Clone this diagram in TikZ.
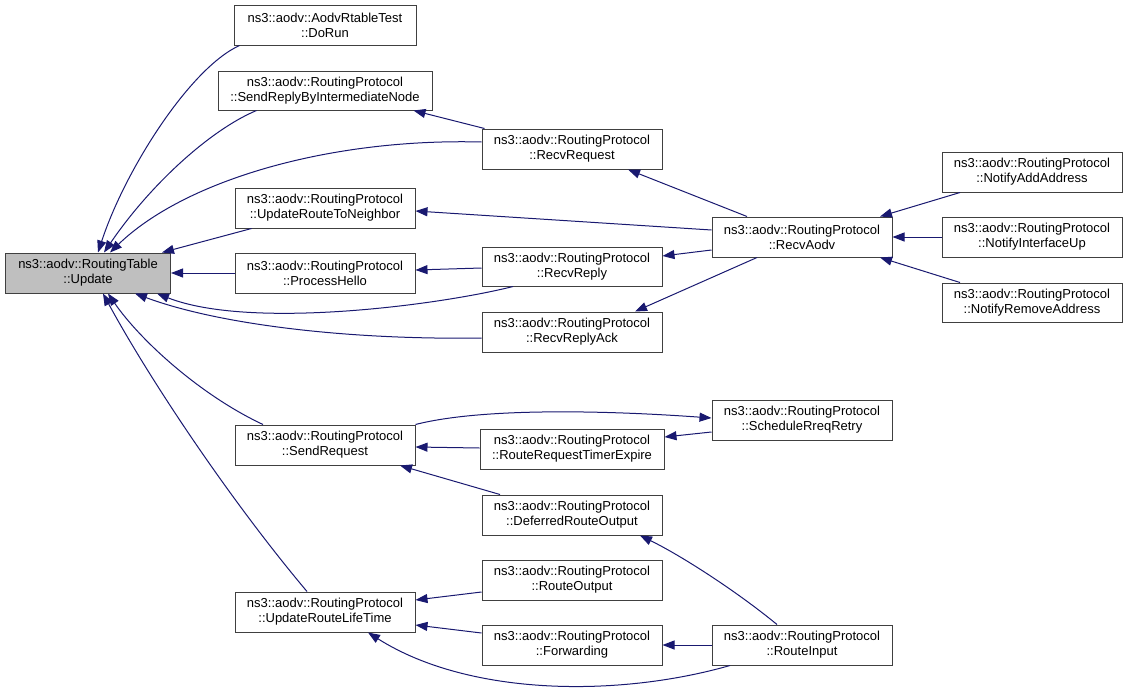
\documentclass[tikz,border=0pt]{standalone}
\usepackage{fontspec}
\setmainfont{Liberation Sans}
\usetikzlibrary{arrows.meta}
\definecolor{edgeblue}{HTML}{191970}
\definecolor{boxline}{HTML}{404040}
\definecolor{hilite}{HTML}{BFBFBF}
\begin{document}
\begin{tikzpicture}[x=1pt,y=-1pt,
  box/.style={draw=boxline,line width=1pt,fill=white,rectangle,minimum height=40pt,
    inner sep=0pt,align=center,font=\fontsize{13pt}{15pt}\selectfont},
  w180/.style={minimum width=180pt},
  edge/.style={draw=edgeblue,line width=1pt,-{Triangle[length=12pt,width=9pt]}}]
\useasboundingbox (0,0) rectangle (1128,694);
% nodes
\node[box,minimum width=165pt,fill=hilite] (Update) at (88,273) {ns3::aodv::RoutingTable\\::Update};
\node[box,minimum width=182pt] (DoRun) at (325,25) {ns3::aodv::AodvRtableTest\\::DoRun};
\node[box,minimum width=214pt,minimum height=39pt] (SRBIN) at (325,90.5) {ns3::aodv::RoutingProtocol\\::SendReplyByIntermediateNode};
\node[box,w180] (RecvRequest) at (572,149) {ns3::aodv::RoutingProtocol\\::RecvRequest};
\node[box,w180] (URTN) at (325,208) {ns3::aodv::RoutingProtocol\\::UpdateRouteToNeighbor};
\node[box,w180] (ProcessHello) at (325,273) {ns3::aodv::RoutingProtocol\\::ProcessHello};
\node[box,w180,minimum height=39pt] (RecvReply) at (572,266.5) {ns3::aodv::RoutingProtocol\\::RecvReply};
\node[box,w180] (RecvReplyAck) at (572,332) {ns3::aodv::RoutingProtocol\\::RecvReplyAck};
\node[box,w180] (RecvAodv) at (802,237) {ns3::aodv::RoutingProtocol\\::RecvAodv};
\node[box,w180] (NotifyAdd) at (1032,172) {ns3::aodv::RoutingProtocol\\::NotifyAddAddress};
\node[box,w180] (NotifyIfUp) at (1032,237) {ns3::aodv::RoutingProtocol\\::NotifyInterfaceUp};
\node[box,w180,minimum height=39pt] (NotifyRemove) at (1032,302.5) {ns3::aodv::RoutingProtocol\\::NotifyRemoveAddress};
\node[box,w180] (SendRequest) at (325,445) {ns3::aodv::RoutingProtocol\\::SendRequest};
\node[box,minimum width=184pt] (RRTE) at (572,449) {ns3::aodv::RoutingProtocol\\::RouteRequestTimerExpire};
\node[box,w180] (SRR) at (802,420) {ns3::aodv::RoutingProtocol\\::ScheduleRreqRetry};
\node[box,w180] (DRO) at (572,515) {ns3::aodv::RoutingProtocol\\::DeferredRouteOutput};
\node[box,w180] (URLT) at (325,612) {ns3::aodv::RoutingProtocol\\::UpdateRouteLifeTime};
\node[box,w180] (RouteOutput) at (572,580) {ns3::aodv::RoutingProtocol\\::RouteOutput};
\node[box,w180] (Forwarding) at (572,645) {ns3::aodv::RoutingProtocol\\::Forwarding};
\node[box,w180] (RouteInput) at (802,645) {ns3::aodv::RoutingProtocol\\::RouteInput};
% edges into Update
\draw[edge] ([xshift=6pt]DoRun.south west) .. controls (190,68) and (125,170) .. ([xshift=10pt]Update.north);
\draw[edge] ([xshift=39pt]SRBIN.south west) .. controls (210,130) and (150,185) .. ([xshift=16pt]Update.north);
\draw[edge] ([yshift=7pt]RecvRequest.west) .. controls (330,138) and (185,180) .. ([xshift=22pt]Update.north);
\draw[edge] ([xshift=17pt]URTN.south west) -- ([xshift=74pt]Update.north);
\draw[edge] (ProcessHello.west) -- (Update.east);
\draw[edge] ([xshift=-59pt]RecvReply.south) .. controls (440,305) and (250,330) .. ([xshift=69pt]Update.south);
\draw[edge] ([yshift=-6pt]RecvReplyAck.west) .. controls (350,340) and (220,325) .. ([xshift=47pt]Update.south);
\draw[edge] ([xshift=-62pt]SendRequest.north) .. controls (200,395) and (140,340) .. ([xshift=20pt]Update.south);
\draw[edge] ([xshift=-18pt]URLT.north) .. controls (230,500) and (150,380) .. ([xshift=15pt]Update.south);
% upper part
\draw[edge] ([xshift=3pt]RecvRequest.north west) -- ([xshift=-19pt]SRBIN.south east);
\draw[edge] ([xshift=-55pt]RecvAodv.north) -- ([xshift=56pt]RecvRequest.south);
\draw[edge] ([yshift=7pt]RecvAodv.west) -- ([yshift=-3pt]URTN.east);
\draw[edge] ([yshift=-1.5pt]RecvReply.west) -- ([yshift=3pt]ProcessHello.east);
\draw[edge] ([yshift=-13pt]RecvAodv.west) -- ([yshift=10.5pt]RecvReply.east);
\draw[edge] ([xshift=-45pt]RecvAodv.south) -- ([xshift=63pt]RecvReplyAck.north);
\draw[edge] ([xshift=-72pt]NotifyAdd.south) -- ([xshift=78pt]RecvAodv.north);
\draw[edge] (NotifyIfUp.west) -- (RecvAodv.east);
\draw[edge] ([xshift=-72pt]NotifyRemove.north) -- ([xshift=78pt]RecvAodv.south);
% lower part
\draw[edge] (SendRequest.north east) .. controls (480,408) and (600,410) .. ([yshift=2pt]SRR.west);
\draw[edge] ([yshift=-12pt]SRR.west) -- ([yshift=12pt]RRTE.east);
\draw[edge] ([yshift=1pt]RRTE.west) -- ([yshift=-2pt]SendRequest.east);
\draw[edge] ([xshift=-72pt]DRO.north) -- ([xshift=75pt]SendRequest.south);
\draw[edge] ([xshift=-25pt]RouteInput.north) .. controls (735,590) and (680,555) .. ([xshift=68pt]DRO.south);
\draw[edge] ([yshift=-12pt]RouteOutput.west) -- ([yshift=12pt]URLT.east);
\draw[edge] ([yshift=12pt]Forwarding.west) -- ([yshift=-13pt]URLT.east);
\draw[edge] (RouteInput.west) -- (Forwarding.east);
\draw[edge] ([xshift=-72pt]RouteInput.south) .. controls (620,697) and (470,697) .. ([xshift=43pt]URLT.south);
\end{tikzpicture}
\end{document}
